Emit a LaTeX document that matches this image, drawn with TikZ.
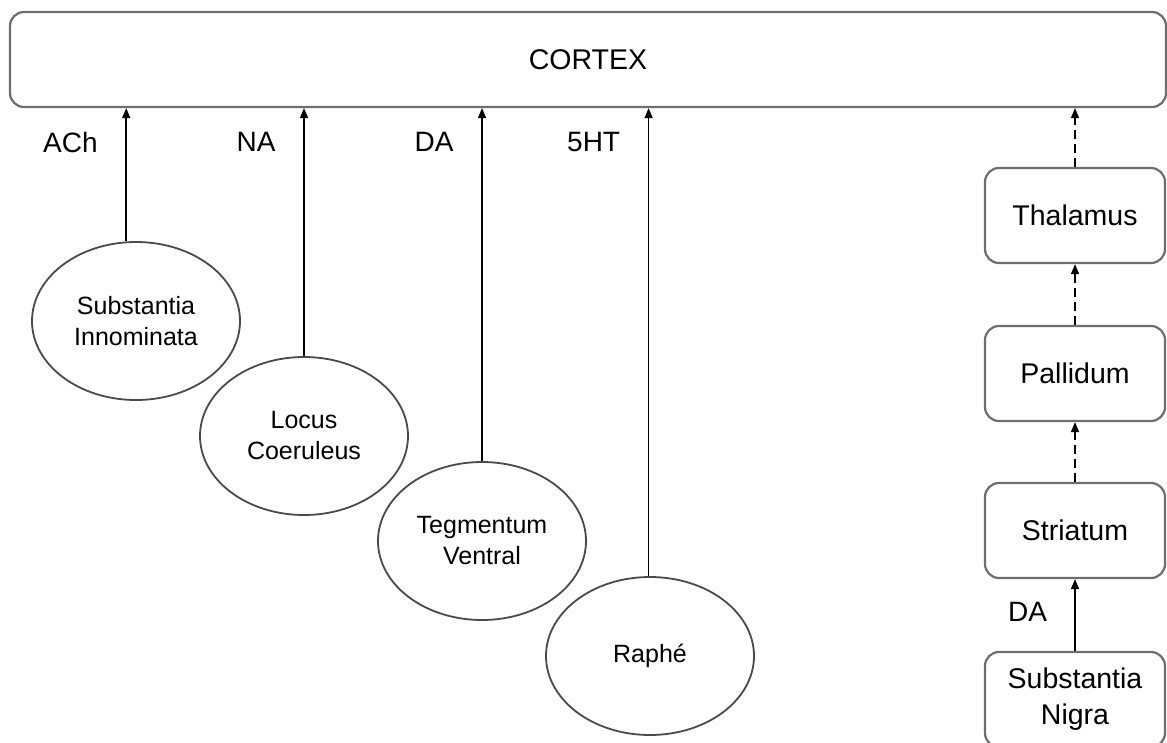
\documentclass[tikz,border=0pt]{standalone}
\usepackage{fontspec}
\setmainfont{Liberation Sans}
\usetikzlibrary{arrows.meta,shapes.geometric}
\definecolor{NucleusEdge}{HTML}{4A4A4A}
\definecolor{RelayEdge}{HTML}{6E6E6E}

\begin{document}
\begin{tikzpicture}[x=1pt,y=-1pt,
    nucleus/.style={ellipse,draw=NucleusEdge,line width=1.8pt,minimum width=208pt,
      minimum height=158pt,align=center,font=\fontsize{25}{31}\selectfont},
    relay/.style={rectangle,rounded corners=14pt,draw=RelayEdge,line width=2.2pt,
      minimum width=180pt,minimum height=95pt,align=center,font=\fontsize{28.5}{36}\selectfont},
    proj/.style={-{Triangle[length=10pt,width=8pt]},line width=1.5pt},
    relayproj/.style={proj,dash pattern=on 9pt off 5pt},
    transmitter/.style={anchor=east,font=\fontsize{28}{34}\selectfont}]
  \useasboundingbox (0,0) rectangle (1167,742);
  \node[relay,minimum width=1156pt] (cortex) at (588,59.5) {CORTEX};
  % diffuse projection systems
  \foreach \name/\x/\y/\txt/\ang/\nt in {
      innominata/136/321/{Substantia\\Innominata}/97/ACh,
      coeruleus/304/436/{Locus\\Coeruleus}/90/NA,
      tegmentum/482/541/{Tegmentum\\Ventral}/90/DA,
      raphe/650/656/{Raphé}/91/5HT}{
    \node[nucleus] (\name) at (\x,\y) {\txt};
    \draw[proj] (\name.\ang) -- (\name.\ang |- cortex.south);
    \path (\name.\ang |- 0,142) ++(-25,0) node[transmitter] (\name-nt) {\nt};
  }
  % basal ganglia loop
  \node[relay] (thalamus) at (1075,215.5) {Thalamus};
  \node[relay] (pallidum) at (1075,373.5) {Pallidum};
  \node[relay] (striatum) at (1075,530.5) {Striatum};
  \node[relay] (nigra) at (1075,699.5) {Substantia\\Nigra};
  \draw[relayproj] (thalamus) -- (thalamus.north |- cortex.south);
  \draw[relayproj] (pallidum) -- (thalamus);
  \draw[relayproj] (striatum) -- (pallidum);
  \draw[proj] (nigra) -- (striatum)
    node[transmitter,midway,xshift=-24pt,yshift=3pt] (nigra-nt) {DA};
\end{tikzpicture}
\end{document}
